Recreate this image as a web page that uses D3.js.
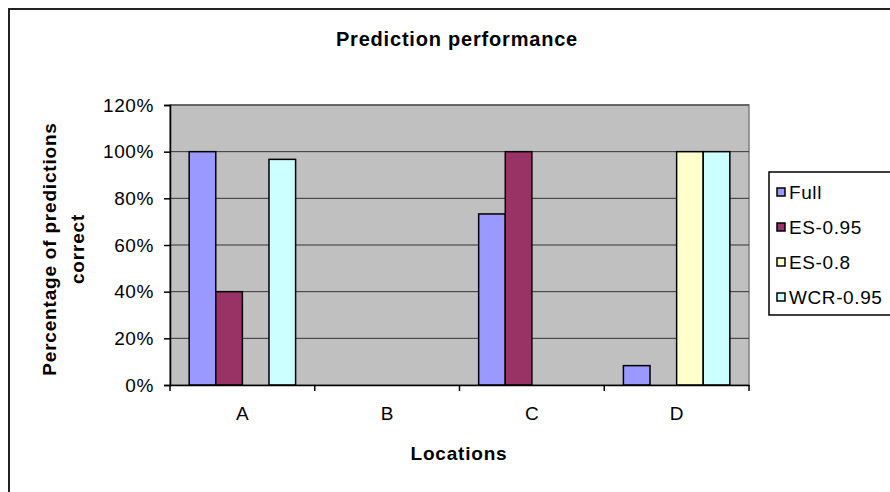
<!DOCTYPE html>
<html>
<head>
<meta charset="utf-8">
<script src="https://cdn.jsdelivr.net/npm/d3@7"></script>
<style>
  html, body { margin: 0; padding: 0; background: #fff; }
  svg { display: block; font-family: "Liberation Sans", Arial, sans-serif; }
</style>
</head>
<body>
<script>
const categories = ["A", "B", "C", "D"];
const seriesNames = ["Full", "ES-0.95", "ES-0.8", "WCR-0.95"];
const fullValues = [100, 0, 73.3, 8.3];
const es095Values = [40, 0, 100, 0];
const es08Values = [0, 0, 0, 100];
const wcr095Values = [96.7, 0, 0, 100];
const seriesColors = ["#9999FF", "#993366", "#FFFFCC", "#CCFFFF"];
const yTicks = [0, 20, 40, 60, 80, 100, 120];

const seriesValues = [fullValues, es095Values, es08Values, wcr095Values];

const W = 890, H = 492;
const plot = { left: 170, right: 749, top: 105, bottom: 385 };
const FONT = "Liberation Sans, Arial, sans-serif";

const svg = d3.select("body").append("svg").attr("width", W).attr("height", H);

// outer chart frame
svg.append("rect").attr("x", 9).attr("y", 9).attr("width", 920).attr("height", 520)
  .attr("fill", "#fff").attr("stroke", "#222").attr("stroke-width", 2);

const x0 = d3.scaleBand().domain(categories).range([plot.left, plot.right]).paddingInner(0).paddingOuter(0);
const x1 = d3.scaleBand().domain(seriesNames).range([0, x0.bandwidth()]).paddingInner(0).paddingOuter(0.72);
const y = d3.scaleLinear().domain([0, 120]).range([plot.bottom, plot.top]);

// plot background
svg.append("rect").attr("x", plot.left).attr("y", plot.top)
  .attr("width", plot.right - plot.left).attr("height", plot.bottom - plot.top)
  .attr("fill", "#C0C0C0").attr("stroke", "#808080").attr("stroke-width", 1.5);

// gridlines
svg.append("g").selectAll("line").data(yTicks.filter(d => d > 0)).join("line")
  .attr("x1", plot.left).attr("x2", plot.right)
  .attr("y1", d => y(d)).attr("y2", d => y(d))
  .attr("stroke", "#333").attr("stroke-width", 1);

// bars
const groups = svg.append("g").selectAll("g").data(categories).join("g")
  .attr("transform", c => `translate(${x0(c)},0)`);
groups.selectAll("rect")
  .data((c, ci) => seriesNames.map((s, si) => ({ s, si, v: seriesValues[si][ci] })).filter(d => d.v > 0))
  .join("rect")
  .attr("x", d => x1(d.s)).attr("width", x1.bandwidth())
  .attr("y", d => y(d.v)).attr("height", d => y(0) - y(d.v))
  .attr("fill", d => seriesColors[d.si]).attr("stroke", "#000").attr("stroke-width", 1.5);

// y axis
const yAxis = d3.axisLeft(y).tickValues(yTicks).tickFormat(d => d + "%").tickSizeOuter(0).tickSize(6).tickPadding(10);
const gy = svg.append("g").attr("transform", `translate(${plot.left},0)`).call(yAxis);
gy.select(".domain").attr("stroke", "#000").attr("stroke-width", 1.5);
gy.selectAll(".tick line").attr("stroke", "#000").attr("stroke-width", 1.5);
gy.selectAll("text").attr("font-size", 19).attr("letter-spacing", 0.6).attr("fill", "#000").attr("font-family", FONT);

// x axis
const xAxis = d3.axisBottom(x0).tickSize(0).tickPadding(22).tickSizeOuter(0);
const gx = svg.append("g").attr("transform", `translate(0,${plot.bottom})`).call(xAxis);
gx.select(".domain").attr("stroke", "#000").attr("stroke-width", 1.5);
gx.selectAll("text").attr("font-size", 19).attr("fill", "#000").attr("font-family", FONT);
// category boundary ticks
gx.append("g").selectAll("line").data(d3.range(categories.length + 1)).join("line")
  .attr("x1", i => plot.left + i * x0.bandwidth()).attr("x2", i => plot.left + i * x0.bandwidth())
  .attr("y1", 0).attr("y2", 6).attr("stroke", "#000").attr("stroke-width", 1.5);

// title
svg.append("text").attr("x", 457).attr("y", 46).attr("text-anchor", "middle")
  .attr("font-size", 20).attr("letter-spacing", 0.8).attr("font-weight", "bold").text("Prediction performance");

// axis titles
svg.append("text").attr("x", 459).attr("y", 460).attr("text-anchor", "middle")
  .attr("font-size", 19).attr("letter-spacing", 0.8).attr("font-weight", "bold").text("Locations");
const yt = svg.append("text").attr("transform", "translate(0,249) rotate(-90)")
  .attr("text-anchor", "middle").attr("font-size", 19).attr("letter-spacing", 0.8).attr("font-weight", "bold");
yt.append("tspan").attr("x", 0).attr("y", 56).text("Percentage of predictions");
yt.append("tspan").attr("x", 0).attr("y", 84).text("correct");

// legend
const lg = svg.append("g");
lg.append("rect").attr("x", 769).attr("y", 172).attr("width", 140).attr("height", 143)
  .attr("fill", "#fff").attr("stroke", "#000").attr("stroke-width", 1.5);
const items = lg.selectAll("g.item").data(seriesNames).join("g").attr("class", "item")
  .attr("transform", (d, i) => `translate(777,${192 + i * 35})`);
items.append("rect").attr("x", 0).attr("y", -4).attr("width", 8).attr("height", 8)
  .attr("fill", (d, i) => seriesColors[i]).attr("stroke", "#000").attr("stroke-width", 1.5);
items.append("text").attr("x", 12).attr("y", 7).attr("font-size", 19).attr("letter-spacing", 0.6)
  .attr("fill", "#000").attr("font-family", FONT).text(d => d);
</script>
</body>
</html>
